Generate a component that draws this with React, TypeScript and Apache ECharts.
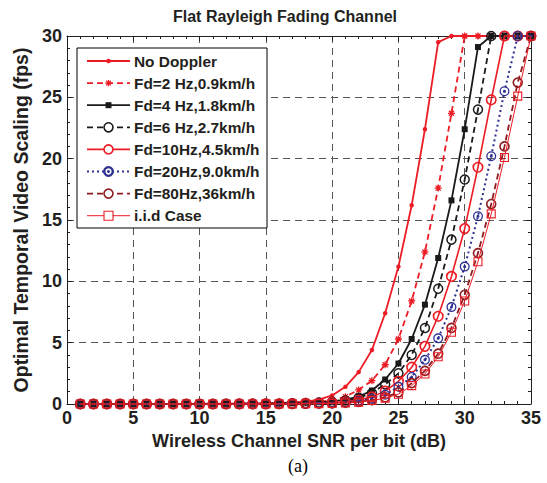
import React, { useEffect, useRef } from 'react';
import * as echarts from 'echarts';

const snr = [1, 2, 3, 4, 5, 6, 7, 8, 9, 10, 11, 12, 13, 14, 15, 16, 17, 18, 19, 20, 21, 22, 23, 24, 25, 26, 27, 28, 29, 30, 31, 32, 33, 34, 35];

const noDoppler = [0, 0, 0, 0, 0, 0, 0.01, 0.01, 0.01, 0.02, 0.02, 0.03, 0.04, 0.05, 0.07, 0.1, 0.14, 0.2, 0.35, 0.7, 1.4, 2.6, 4.4, 7.4, 11.2, 16.2, 22.4, 29.5, 30, 30, 30, 30, 30, 30, 30];
const fd2 = [0, 0, 0, 0, 0, 0, 0, 0, 0.01, 0.01, 0.01, 0.01, 0.02, 0.02, 0.03, 0.05, 0.08, 0.12, 0.18, 0.3, 0.6, 1.15, 1.9, 3.2, 5.3, 8.4, 12.4, 17.6, 23.7, 30, 30, 30, 30, 30, 30];
const fd4 = [0, 0, 0, 0, 0, 0, 0, 0, 0, 0, 0.01, 0.01, 0.01, 0.02, 0.02, 0.03, 0.06, 0.1, 0.15, 0.22, 0.35, 0.6, 1.1, 2.0, 3.3, 5.3, 8.1, 11.9, 16.6, 22.4, 29.1, 30, 30, 30, 30];
const fd6 = [0, 0, 0, 0, 0, 0, 0, 0, 0, 0, 0, 0.01, 0.01, 0.01, 0.02, 0.02, 0.05, 0.08, 0.12, 0.17, 0.28, 0.5, 0.9, 1.6, 2.5, 4.0, 6.2, 9.4, 13.4, 18.3, 24.0, 30, 30, 30, 30];
const fd10 = [0, 0, 0, 0, 0, 0, 0, 0, 0, 0, 0, 0, 0.01, 0.01, 0.01, 0.02, 0.03, 0.05, 0.08, 0.11, 0.18, 0.32, 0.58, 1.05, 1.85, 3.0, 4.7, 7.15, 10.4, 14.3, 19.3, 24.8, 30, 30, 30];
const fd20 = [0, 0, 0, 0, 0, 0, 0, 0, 0, 0, 0, 0, 0, 0.01, 0.01, 0.01, 0.02, 0.03, 0.05, 0.07, 0.13, 0.24, 0.42, 0.75, 1.4, 2.2, 3.6, 5.35, 7.9, 11.2, 15.3, 20.2, 25.5, 30, 30];
const fd80 = [0, 0, 0, 0, 0, 0, 0, 0, 0, 0, 0, 0, 0, 0, 0.01, 0.01, 0.01, 0.02, 0.04, 0.05, 0.1, 0.18, 0.32, 0.55, 0.95, 1.7, 2.7, 4.1, 6.2, 8.9, 12.3, 16.3, 21.0, 26.2, 30];
const iid = [0, 0, 0, 0, 0, 0, 0, 0, 0, 0, 0, 0, 0, 0, 0.01, 0.01, 0.01, 0.02, 0.03, 0.04, 0.08, 0.15, 0.28, 0.48, 0.8, 1.5, 2.45, 3.85, 5.85, 8.4, 11.6, 15.5, 20.1, 25.1, 30];

const seriesNames = [
  'No Doppler',
  'Fd=2 Hz,0.9km/h',
  'Fd=4 Hz,1.8km/h',
  'Fd=6 Hz,2.7km/h',
  'Fd=10Hz,4.5km/h',
  'Fd=20Hz,9.0km/h',
  'Fd=80Hz,36km/h',
  'i.i.d Case',
];
const seriesValues = [noDoppler, fd2, fd4, fd6, fd10, fd20, fd80, iid];

const RED = '#ed1c24';
const BLACK = '#1a1a1a';
const BLUE = '#2e3192';
const DARKRED = '#8e1b1f';
const AX = '#231f20';
const TXT = '#231f20';
const FONT = '"Liberation Sans", Arial, sans-serif';

const ASTERISK = 'path://M0,-5L0,5M-5,0L5,0M-3.6,-3.6L3.6,3.6M-3.6,3.6L3.6,-3.6';
const RINGDOT =
  'path://M0,-10A10,10,0,0,1,0,10A10,10,0,0,1,0,-10ZM0,-7.4A7.4,7.4,0,0,0,0,7.4A7.4,7.4,0,0,0,0,-7.4ZM0,-3A3,3,0,0,1,0,3A3,3,0,0,1,0,-3Z';

type Sty = {
  color: string;
  width: number;
  dash: any;
  symbol: string;
  size: number;
  fill: string;
  stroke: string;
  sw: number;
};

const styles: Sty[] = [
  { color: RED, width: 1.8, dash: 'solid', symbol: 'circle', size: 4.5, fill: RED, stroke: RED, sw: 0 },
  { color: RED, width: 1.8, dash: [6, 4], symbol: ASTERISK, size: 7, fill: 'none', stroke: RED, sw: 1.3 },
  { color: BLACK, width: 1.8, dash: 'solid', symbol: 'rect', size: 6, fill: BLACK, stroke: BLACK, sw: 0 },
  { color: BLACK, width: 1.8, dash: [6, 4], symbol: 'circle', size: 9, fill: 'transparent', stroke: BLACK, sw: 1.5 },
  { color: RED, width: 1.6, dash: 'solid', symbol: 'circle', size: 9.5, fill: 'transparent', stroke: RED, sw: 1.6 },
  { color: BLUE, width: 2, dash: [2, 3], symbol: RINGDOT, size: 10, fill: BLUE, stroke: BLUE, sw: 0 },
  { color: DARKRED, width: 1.8, dash: [6, 4], symbol: 'circle', size: 9, fill: 'transparent', stroke: DARKRED, sw: 1.6 },
  { color: RED, width: 1, dash: 'solid', symbol: 'rect', size: 8, fill: 'transparent', stroke: RED, sw: 1.1 },
];

function legendGraphics() {
  const els: any[] = [];
  const bx = 77, by = 48, bw = 190, bh = 180;
  els.push({
    type: 'rect',
    shape: { x: bx, y: by, width: bw, height: bh },
    style: { fill: '#fff', stroke: '#000', lineWidth: 1 },
    z: 100,
  });
  seriesNames.forEach((name, i) => {
    const s = styles[i];
    const cy = 61 + i * 22.1;
    const x0 = 87, x1 = 130, cx = 108.5;
    els.push({
      type: 'line',
      shape: { x1: x0, y1: cy, x2: x1, y2: cy },
      style: { stroke: s.color, lineWidth: s.width, lineDash: s.dash === 'solid' ? null : s.dash },
      z: 101,
    });
    if (i === 0) {
      els.push({ type: 'circle', shape: { cx, cy, r: 2.3 }, style: { fill: RED }, z: 102 });
    } else if (i === 1) {
      const r = 3.2, d = 2.3;
      [[0, -r, 0, r], [-r, 0, r, 0], [-d, -d, d, d], [-d, d, d, -d]].forEach((p) => {
        els.push({
          type: 'line',
          shape: { x1: cx + p[0], y1: cy + p[1], x2: cx + p[2], y2: cy + p[3] },
          style: { stroke: RED, lineWidth: 1.3 },
          z: 102,
        });
      });
    } else if (i === 2) {
      els.push({ type: 'rect', shape: { x: cx - 3, y: cy - 3, width: 6, height: 6 }, style: { fill: BLACK }, z: 102 });
    } else if (i === 5) {
      els.push({ type: 'circle', shape: { cx, cy, r: 4.3 }, style: { fill: '#fff', stroke: BLUE, lineWidth: 2.4 }, z: 102 });
      els.push({ type: 'circle', shape: { cx, cy, r: 1.5 }, style: { fill: BLUE }, z: 103 });
    } else if (i === 7) {
      els.push({ type: 'rect', shape: { x: cx - 4.5, y: cy - 4.5, width: 9, height: 9 }, style: { fill: '#fff', stroke: RED, lineWidth: 1.1 }, z: 102 });
    } else {
      els.push({ type: 'circle', shape: { cx, cy, r: 4.5 }, style: { fill: '#fff', stroke: s.stroke, lineWidth: 1.6 }, z: 102 });
    }
    els.push({
      type: 'text',
      x: 134,
      y: cy,
      style: { text: name, font: 'bold 15.4px ' + FONT, fill: TXT, align: 'left', verticalAlign: 'middle' },
      z: 102,
    });
  });
  return els;
}

function makeOption(): any {
  const tickCommon = {
    axisLine: { show: true, onZero: false, lineStyle: { color: AX, width: 1 } },
    axisTick: { show: true, inside: true, length: 5, lineStyle: { color: AX, width: 1 } },
    minorTick: { show: true, splitNumber: 5, length: 3, lineStyle: { color: AX, width: 1 } },
  };
  const labelStyle = { color: TXT, fontSize: 18, fontWeight: 'bold', fontFamily: FONT };
  const nameStyle = { color: TXT, fontSize: 18, fontWeight: 'bold', fontFamily: FONT };
  const split = { show: true, lineStyle: { color: '#555', type: [7, 5], width: 1 } };

  const series = seriesNames.map((name, i) => {
    const s = styles[i];
    return {
      type: 'line',
      name,
      data: snr.map((x, k) => [x, seriesValues[i][k]]),
      xAxisIndex: 0,
      yAxisIndex: 0,
      symbol: s.symbol,
      symbolSize: s.size,
      showSymbol: true,
      showAllSymbol: true,
      clip: false,
      lineStyle: { color: s.color, width: s.width, type: s.dash },
      itemStyle: { color: s.fill, borderColor: s.stroke, borderWidth: s.sw },
      emphasis: { disabled: true },
      z: 2 + i,
    };
  });

  return {
    animation: false,
    backgroundColor: '#fff',
    grid: { left: 67, top: 36, width: 464, height: 368, containLabel: false },
    xAxis: [
      {
        type: 'value',
        min: 0,
        max: 35,
        interval: 5,
        position: 'bottom',
        ...tickCommon,
        axisLabel: { ...labelStyle, margin: 5 },
        splitLine: split,
        name: 'Wireless Channel SNR per bit (dB)',
        nameLocation: 'middle',
        nameGap: 24,
        nameTextStyle: { ...nameStyle },
      },
      {
        type: 'value',
        min: 0,
        max: 35,
        interval: 5,
        position: 'top',
        ...tickCommon,
        axisLabel: { show: false },
        splitLine: { show: false },
      },
    ],
    yAxis: [
      {
        type: 'value',
        min: 0,
        max: 30,
        interval: 5,
        position: 'left',
        ...tickCommon,
        axisLabel: { ...labelStyle, margin: 5 },
        splitLine: split,
        name: 'Optimal Temporal Video Scaling (fps)',
        nameLocation: 'middle',
        nameGap: 34,
        nameTextStyle: { ...nameStyle, fontSize: 19.5 },
      },
      {
        type: 'value',
        min: 0,
        max: 30,
        interval: 5,
        position: 'right',
        ...tickCommon,
        axisLabel: { show: false },
        splitLine: { show: false },
      },
    ],
    series,
    graphic: [
      {
        type: 'text',
        x: 285,
        y: 16,
        style: { text: 'Flat Rayleigh Fading Channel', font: 'bold 16px ' + FONT, fill: TXT, align: 'center', verticalAlign: 'middle' },
      },
      {
        type: 'text',
        x: 298,
        y: 466,
        style: { text: '(a)', font: '18px "Liberation Serif", "Times New Roman", serif', fill: '#000', align: 'center', verticalAlign: 'middle' },
      },
      ...legendGraphics(),
    ],
  };
}

export default function App() {
  const ref = useRef<HTMLDivElement>(null);
  useEffect(() => {
    if (!ref.current) return;
    const chart = echarts.init(ref.current, null, { renderer: 'svg' });
    chart.setOption(makeOption());
    return () => {
      chart.dispose();
    };
  }, []);
  return (
    <div
      ref={ref}
      style={{ position: 'absolute', left: 0, top: 0, width: 547, height: 483, background: '#fff' }}
    />
  );
}
